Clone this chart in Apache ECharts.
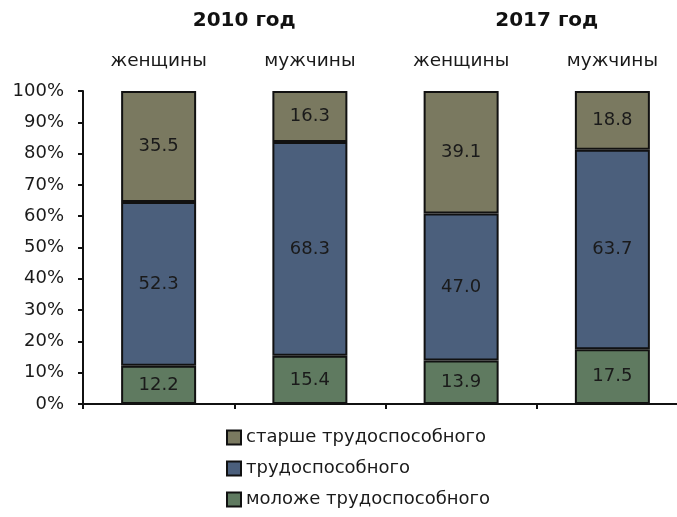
<!DOCTYPE html>
<html><head><meta charset="utf-8">
<script src="https://cdn.jsdelivr.net/npm/echarts@6/dist/echarts.min.js"></script>
<style>html,body{margin:0;padding:0;background:#fff;overflow:hidden;width:677px;height:517px}#c{width:688px;height:517px}</style>
</head><body><div id="c"></div>
<script>
var years = ['2010 год', '2017 год'];
var categories = ['женщины', 'мужчины', 'женщины', 'мужчины'];
var yTicks = [0, 10, 20, 30, 40, 50, 60, 70, 80, 90, 100];
var seriesNames = ['старше трудоспособного', 'трудоспособного', 'моложе трудоспособного'];
var younger = [12.2, 15.4, 13.9, 17.5];
var working = [52.3, 68.3, 47.0, 63.7];
var older = [35.5, 16.3, 39.1, 18.8];

var FONT = '"DejaVu Sans", Verdana, sans-serif';
var colors = { older: '#7a7960', working: '#4b5f7c', younger: '#5f7a60' };

function mk(name, data, color) {
  return {
    name: name, type: 'bar', stack: 'a', data: data, barWidth: 75,
    xAxisIndex: 0,
    itemStyle: { color: color, borderColor: '#111', borderWidth: 2 },
    label: { show: true, position: 'inside', color: '#1a1a1a', fontSize: 18, fontFamily: FONT,
      formatter: function (p) { return p.value.toFixed(1); } }
  };
}

var chart = echarts.init(document.getElementById('c'), null, { renderer: 'canvas' });
chart.setOption({
  animation: false,
  textStyle: { fontFamily: FONT },
  grid: { left: 83, top: 91, right: 0, height: 313, containLabel: false },
  legend: {
    orient: 'vertical', left: 226, top: 427, itemGap: 10, padding: 0,
    itemWidth: 14, itemHeight: 14, icon: 'rect',
    data: seriesNames,
    itemStyle: { borderColor: '#111', borderWidth: 2 },
    textStyle: { fontSize: 18, lineHeight: 21, color: '#1a1a1a', fontFamily: FONT, padding: [0, 0, 0, 0] }
  },
  xAxis: [
    { type: 'category', data: categories, position: 'bottom',
      axisLine: { lineStyle: { color: '#111', width: 2 } },
      axisTick: { show: true, alignWithLabel: false, length: 5, lineStyle: { color: '#111', width: 2 } },
      axisLabel: { show: false } },
    { type: 'category', data: categories, position: 'top', gridIndex: 0,
      axisLine: { show: false }, axisTick: { show: false },
      axisLabel: { show: true, fontSize: 18.5, color: '#1a1a1a', margin: 20, fontFamily: FONT } },
    { type: 'category', data: years, position: 'top', offset: 52, gridIndex: 0,
      axisLine: { show: false }, axisTick: { show: false },
      axisLabel: { show: true, fontSize: 20, fontWeight: 'bold', color: '#111', fontFamily: FONT, padding: [0, 0, 0, 20] } }
  ],
  yAxis: {
    type: 'value', min: 0, max: 100, interval: 10,
    axisLine: { show: true, lineStyle: { color: '#111', width: 2 } },
    axisTick: { show: true, length: 5, lineStyle: { color: '#111', width: 2 } },
    splitLine: { show: false },
    axisLabel: { fontSize: 18, color: '#1a1a1a', margin: 19, fontFamily: FONT,
      formatter: function (v) { return yTicks.indexOf(v) >= 0 ? v + '%' : ''; } }
  },
  series: [
    mk(seriesNames[2], younger, colors.younger),
    mk(seriesNames[1], working, colors.working),
    mk(seriesNames[0], older, colors.older)
  ]
});
</script></body></html>
